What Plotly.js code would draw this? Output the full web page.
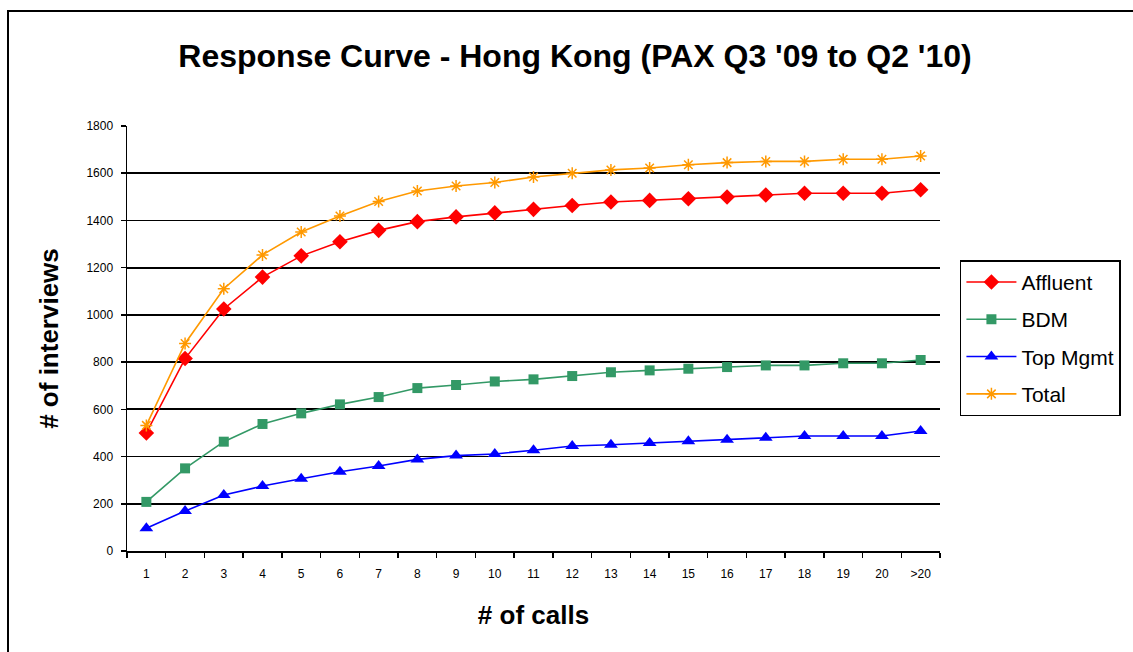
<!DOCTYPE html>
<html>
<head>
<meta charset="utf-8">
<script src="https://cdn.plot.ly/plotly-3.0.1.min.js"></script>
<style>
  html, body { margin: 0; padding: 0; background: #fff; }
  #wrap { position: relative; width: 1133px; height: 652px; overflow: hidden; }
  #chart { width: 1133px; height: 652px; }
  #frame { position: absolute; left: 7px; top: 10px; width: 1140px; height: 660px;
           border-left: 2px solid #000; border-top: 2px solid #000; pointer-events: none; }
</style>
</head>
<body>
<div id="wrap">
  <div id="chart"></div>
  <div id="frame"></div>
</div>
<script>
const calls = ['1','2','3','4','5','6','7','8','9','10','11','12','13','14','15','16','17','18','19','20','>20'];
const affluent = [500, 815, 1025, 1160, 1250, 1310, 1358, 1395, 1415, 1432, 1447, 1463, 1478, 1485, 1492, 1499, 1508, 1515, 1515, 1515, 1530];
const bdm      = [208, 350, 463, 538, 583, 621, 652, 690, 703, 718, 727, 741, 757, 765, 772, 779, 786, 786, 795, 795, 809];
const topMgmt  = [96, 169, 237, 275, 306, 336, 360, 388, 404, 411, 427, 445, 450, 457, 465, 471, 480, 487, 487, 487, 508];
const total    = [532, 879, 1111, 1254, 1351, 1419, 1480, 1525, 1546, 1561, 1584, 1600, 1614, 1622, 1636, 1645, 1650, 1650, 1659, 1659, 1673];
const yTicks = [0, 200, 400, 600, 800, 1000, 1200, 1400, 1600, 1800];

const FONT = 'Arial, "Liberation Sans", sans-serif';

const traces = [
  {name: 'Affluent', y: affluent, color: '#FF0000', symbol: 'diamond', size: 12},
  {name: 'BDM', y: bdm, color: '#339966', symbol: 'square', size: 10},
  {name: 'Top Mgmt', y: topMgmt, color: '#0000FF', symbol: 'triangle-up', size: 12},
  {name: 'Total', y: total, color: '#FF9900', symbol: 'asterisk-open', size: 10}
].map((s, i) => ({
  type: 'scatter',
  mode: 'lines+markers',
  name: s.name,
  x: calls,
  y: s.y,
  legendgroup: 'g' + i,
  line: {color: s.color, width: 1.6},
  marker: {color: s.color, symbol: s.symbol, size: s.size,
           line: {color: s.color, width: s.symbol === 'asterisk-open' ? 1.5 : 0}}
}));

const layout = {
  width: 1133, height: 652,
  margin: {l: 127, r: 191, t: 126, b: 101},
  paper_bgcolor: '#fff', plot_bgcolor: '#fff',
  font: {family: FONT, color: '#000'},
  title: {
    text: "Response Curve - Hong Kong (PAX Q3 '09 to Q2 '10)",
    font: {family: FONT, size: 32, color: '#000', weight: 'bold'},
    x: 0.5075, xref: 'container', xanchor: 'center',
    y: 0.915, yref: 'container', yanchor: 'middle'
  },
  xaxis: {
    type: 'category',
    range: [-0.5, 20.5],
    showline: true, linecolor: '#000', linewidth: 1.5,
    ticks: 'outside', tickson: 'boundaries', ticklen: 5, tickcolor: '#000', tickwidth: 1.5,
    ticklabelstandoff: 11,
    showgrid: false, zeroline: false,
    tickfont: {family: FONT, size: 12, color: '#000'},
    title: {text: '# of calls', font: {family: FONT, size: 26, color: '#000', weight: 'bold'}, standoff: 26},
    fixedrange: true
  },
  yaxis: {
    range: [0, 1800],
    tickvals: yTicks,
    showline: true, linecolor: '#000', linewidth: 1.5,
    ticks: 'outside', ticklen: 5, tickcolor: '#000', tickwidth: 1.5,
    ticklabelstandoff: 5,
    showgrid: true, gridcolor: '#000', gridwidth: 1.8,
    zeroline: false,
    tickfont: {family: FONT, size: 12, color: '#000'},
    title: {text: '# of interviews', font: {family: FONT, size: 26, color: '#000', weight: 'bold'}, standoff: 20},
    fixedrange: true
  },
  showlegend: true,
  legend: {
    x: 1.0245, xanchor: 'left', y: 0.684, yanchor: 'top',
    bgcolor: '#fff', bordercolor: '#000', borderwidth: 1.5,
    font: {family: FONT, size: 21, color: '#000'},
    traceorder: 'grouped', tracegroupgap: 7,
    itemwidth: 50
  }
};

Plotly.newPlot('chart', traces, layout, {displayModeBar: false, staticPlot: true});
</script>
</body>
</html>
